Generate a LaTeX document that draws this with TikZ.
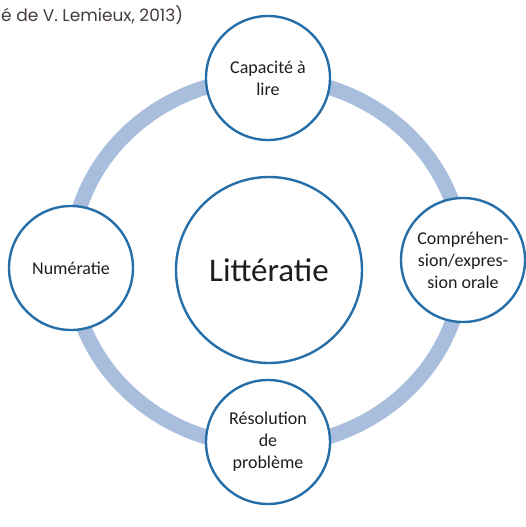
\documentclass[tikz,border=0pt]{standalone}
\usepackage{fontspec}
\setmainfont{Carlito}
\newfontfamily\titrefont{Poppins}
\definecolor{bordbleu}{RGB}{38,110,168}
\definecolor{anneau}{RGB}{168,190,220}
\definecolor{texte}{RGB}{30,30,30}
\definecolor{source}{RGB}{70,60,60}
\tikzset{
	bulle/.style={circle,draw=bordbleu,line width=2.4pt,fill=white,minimum size=124pt,inner sep=0pt,align=center,text=texte,font=\fontsize{18}{22}\selectfont},
	grosse/.style={bulle,minimum size=186pt,font=\fontsize{33}{36}\selectfont}
}
\begin{document}
\begin{tikzpicture}[x=1pt,y=-1pt]
	\useasboundingbox (0,0) rectangle (526,527);
	% titre en haut
	\node[anchor=west,inner sep=0pt,text=source,font=\titrefont\fontsize{17}{19}\selectfont] (titre) at (1,15) {é de V. Lemieux, 2013)};
	% anneau
	\draw[anneau,line width=15pt] (267,262) ellipse (196 and 184);
	% bulles
	\node[grosse] (litt) at (269,270) {Littératie};
	\node[bulle] (lire) at (268,78) {Capacité à\\lire};
	\node[bulle] (orale) at (463,260) {Compréhen-\\sion/expres-\\sion orale};
	\node[bulle] (prob) at (268,442) {Résolution\\de\\problème};
	\node[bulle] (num) at (71,268) {Numératie};
\end{tikzpicture}
\end{document}
